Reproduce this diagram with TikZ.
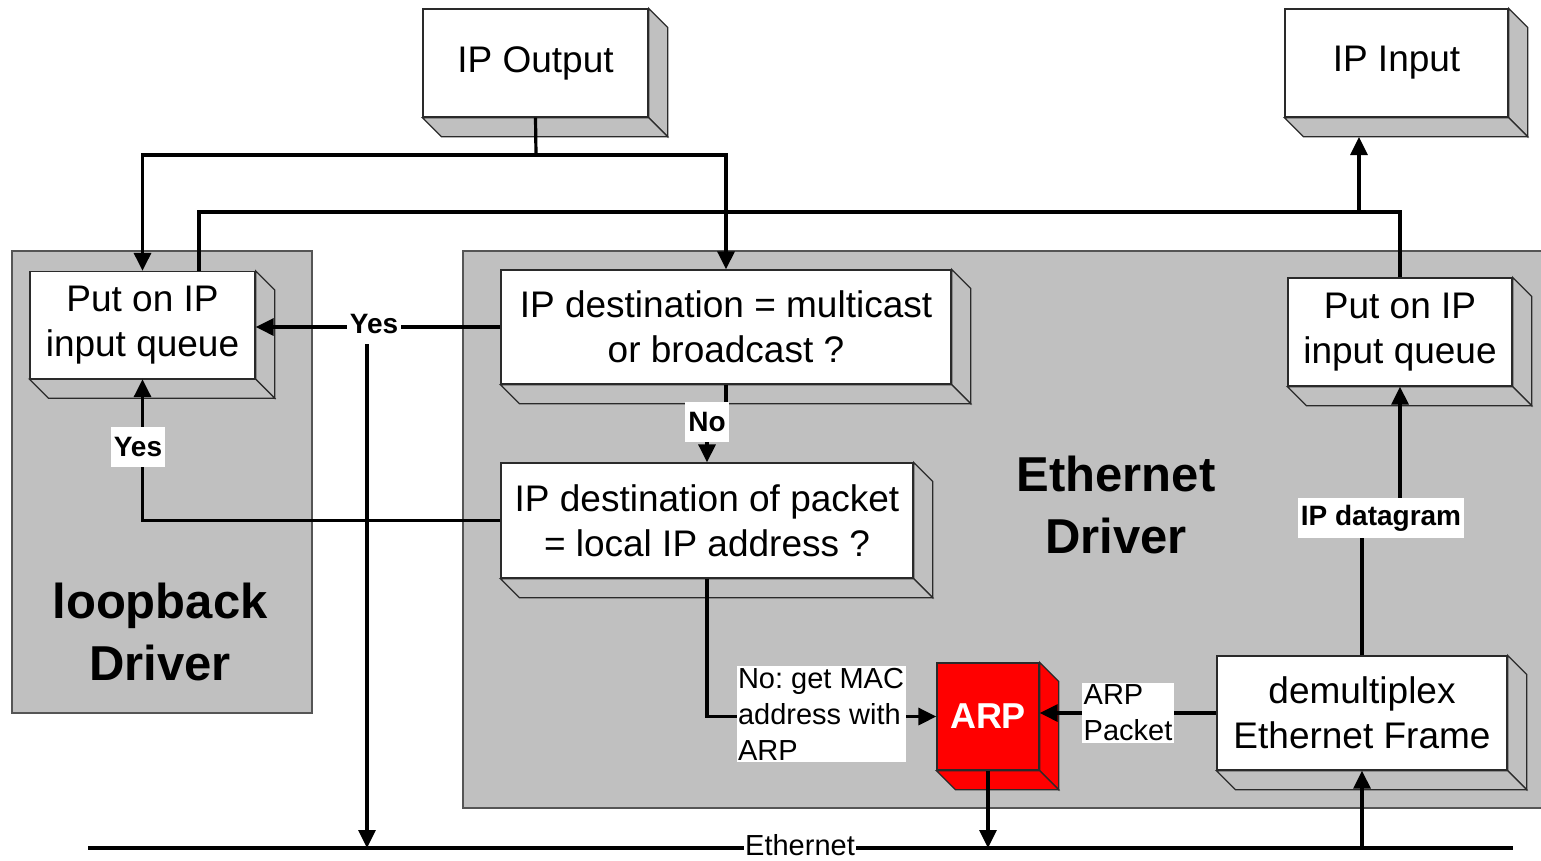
\documentclass[tikz,border=0pt]{standalone}
\usepackage{fontspec}
\setmainfont{Liberation Sans}
\usetikzlibrary{arrows.meta,calc}
\frenchspacing

\definecolor{panel}{HTML}{C0C0C0}
\definecolor{edge}{HTML}{2A2A2A}
\definecolor{arpred}{HTML}{FF0000}

% extruded box: front face node plus right and bottom side faces
% #1 node options, #2 name, #3 centre, #4 width, #5 height, #6 side colour, #7 text
\newcommand\solidbox[7][]{%
  \node[boxface,#1,minimum width=#4,minimum height=#5] (#2) at (#3) {#7};
  \filldraw[sideface,fill=#6] (#2.north east) -- ++(19,19)
      -- ($(#2.south east)+(19,19)$) -- (#2.south east) -- cycle;
  \filldraw[sideface,fill=#6] (#2.south west) -- (#2.south east)
      -- ++(19,19) -- ($(#2.south west)+(19,19)$) -- cycle;
}

\begin{document}
\begin{tikzpicture}[x=1pt,y=-1pt,
  boxface/.style={draw=edge,fill=white,line width=1.3pt,inner sep=0pt,
    align=center,font=\fontsize{37}{45}\selectfont},
  sideface/.style={draw=edge,line width=1.3pt,line join=miter},
  driver/.style={fill=panel,draw=edge!80,line width=1.3pt},
  title/.style={align=center,font=\fontsize{49}{62}\selectfont\bfseries},
  conn/.style={line width=3.2pt,draw=black},
  tip/.style={-{Triangle[length=18pt,width=17pt]}},
  lbl/.style={fill=white,inner xsep=3pt,inner ysep=0pt,minimum height=40pt,
    font=\fontsize{28}{34}\selectfont\bfseries},
  note/.style={fill=white,inner xsep=1.5pt,inner ysep=2pt,align=left,
    font=\fontsize{29}{36}\selectfont},
]
\useasboundingbox (0,0) rectangle (1541,860);
\fill[white] (0,0) rectangle (1541,860);

% driver panels
\draw[driver] (12,251) rectangle (312,713);
\draw[driver] (463,251) rectangle (1560,808);
\node[title] (loopT) at (160,632) {loopback\\Driver};
\node[title] (ethT) at (1116,505) {Ethernet\\Driver};

% processing boxes
\solidbox{ipout}{535.5,63}{225}{108}{panel}{IP Output}
\solidbox{ipin}{1396.5,63}{223}{108}{panel}{IP Input}
\solidbox{lqueue}{142.5,325}{225}{107}{panel}{Put on IP\\input queue}
\solidbox{rqueue}{1400,332}{224}{108}{panel}{Put on IP\\input queue}
\solidbox{mcast}{726,327}{450}{114}{panel}{IP destination = multicast\\or broadcast ?}
\solidbox{local}{707,520.5}{412}{115}{panel}{IP destination of packet\\= local IP address ?}
\solidbox{demux}{1362,713}{290}{114}{panel}{demultiplex\\Ethernet Frame}
\solidbox[fill=arpred,text=white,font=\fontsize{36}{40}\selectfont\bfseries]%
  {arp}{988,716.5}{102}{107}{arpred}{ARP}

% junction and end points
\coordinate (jOut) at (536,155);
\coordinate (jIn) at (1359,212);
\coordinate (lqIn) at (199,271);
\coordinate (ipinBase) at (1359,137);
\coordinate (ethL) at (88,848);
\coordinate (ethR) at (1513,848);
\coordinate (ethLoop) at (367,848);

% Ethernet bus
\draw[conn] (ethL) -- (ethR);

% output side
\draw[conn] (ipout.south) -- (jOut);
\draw[conn,tip] (jOut) -| (lqueue.north);
\draw[conn,tip] (jOut) -| (mcast.north);

% input side
\draw[conn] (rqueue.north) |- (lqIn |- jIn) -- (lqIn);
\draw[conn,tip] (jIn) -- (ipinBase);

% decisions
\draw[conn,tip] (mcast.west) -- (mcast.west -| lqueue.east);
\draw[conn,tip] (ethLoop |- mcast.west) -- (ethLoop);
\draw[conn,tip] (mcast.south) -- ++(0,38) -| (local.north);
\draw[conn,tip] (local.west) -| (lqueue.south);
\draw[conn,tip] (local.south) |- (arp.west);

% ARP and demultiplexing
\draw[conn,tip] (demux.west) -- (demux.west -| arp.east);
\draw[conn,tip] (arp.south) -- (arp.south |- ethL);
\draw[conn,tip] (demux.south |- ethL) -- (demux.south);
\draw[conn,tip] (demux.north) -- ++(0,-138) -| (rqueue.south);

% connector labels
\node[lbl] (yesA) at (374,324) {Yes};
\node[lbl] (yesB) at (138,447) {Yes};
\node[lbl] (noA) at (707,422) {No};
\node[lbl] (dgram) at (1381,518) {IP datagram};
\node[note] (getmac) at (821,714) {No: get MAC\\address with\\ARP};
\node[note] (arppkt) at (1128,713) {ARP\\Packet};
\node[note,inner ysep=1pt] (ethLbl) at (800,845) {Ethernet};
\end{tikzpicture}
\end{document}
